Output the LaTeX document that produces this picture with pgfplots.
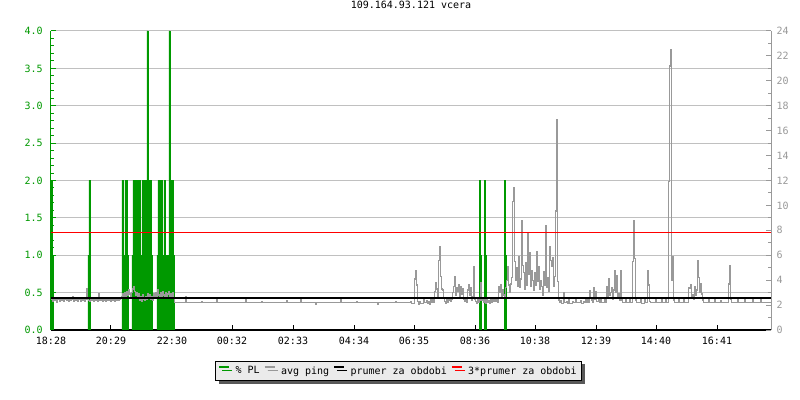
\documentclass[border=0pt]{standalone}
\usepackage{fontspec}
\setmainfont{DejaVu Sans Mono}
\usepackage{pgfplots}
\pgfplotsset{compat=1.18}
\usetikzlibrary{shadows}

\definecolor{plgreen}{HTML}{009900}
\definecolor{pinggray}{HTML}{999999}
\definecolor{gridgray}{HTML}{C0C0C0}
\definecolor{legendfill}{HTML}{EBEBEB}

\begin{document}
\fontsize{7.5}{9}\selectfont
\begin{tikzpicture}
\fill[white] (-38.25pt,-52.5pt) rectangle (561.75pt,247.5pt);

% % PL, left axis (1 px = 2 min)
\begin{axis}[
  scale only axis, width=540pt, height=224.25pt,
  xmin=0, xmax=1440, ymin=0, ymax=4,
  axis x line*=bottom, axis y line*=left,
  x axis line style={black, line width=1.1pt, -},
  y axis line style={plgreen, line width=0.75pt, -},
  tick align=inside, major tick length=3.75pt, minor tick length=2.25pt,
  xtick={0,120,242,362,484,606,726,848,968,1090,1210,1332},
  xticklabels={18:28,20:29,22:30,00:32,02:33,04:34,06:35,08:36,10:38,12:39,14:40,16:41},
  xtick style={black, line width=0.75pt},
  xticklabel style={anchor=center, inner sep=0pt, yshift=-8.25pt},
  ytick={0,0.5,1,1.5,2,2.5,3,3.5,4}, minor y tick num=4,
  ytick style={plgreen, line width=0.75pt},
  yticklabel style={plgreen, anchor=east, inner sep=0pt, xshift=-6pt,
    /pgf/number format/.cd, fixed, fixed zerofill, precision=1},
  /pgf/number format/assume math mode=true,
  ymajorgrids, grid style={gridgray, line width=0.75pt},
  title={109.164.93.121 vcera},
  title style={anchor=center, inner sep=0pt, yshift=13.5pt},
]
\addplot[const plot, fill=plgreen, draw=plgreen, line width=0.4pt] coordinates {
(0,2) (2,1) (4,0)
(74,1) (76,2) (78,0)
(142,2) (144,1) (146,0) (148,2) (152,1) (154,0)
(162,1) (164,2) (166,1) (168,2) (170,1) (172,2) (174,1) (176,2) (178,1)
(182,2) (192,4) (194,2) (196,1) (198,2) (200,1) (202,0)
(212,1) (214,2) (216,1) (218,2) (222,1) (226,2) (228,0) (230,1) (236,4)
(238,2) (240,0) (242,2) (244,1) (246,0)
(856,2) (858,1) (860,0) (866,2) (868,1) (870,0) (906,2) (908,1) (910,0)
(1440,0)
} \closedcycle;
\end{axis}

% avg ping, right axis (samples sit on pixel centres)
\begin{axis}[
  scale only axis, width=540pt, height=224.25pt,
  xmin=-1, xmax=1439, ymin=0, ymax=24,
  axis x line=none, axis y line*=right,
  y axis line style={pinggray, line width=0.75pt, -},
  tick align=inside, major tick length=3.75pt, minor tick length=2.25pt,
  ytick={0,2,...,24}, minor y tick num=1,
  ytick style={pinggray, line width=0.75pt},
  yticklabel style={pinggray, anchor=west, inner sep=0pt, xshift=4pt},
  /pgf/number format/assume math mode=true,
  legend columns=4,
  legend image code/.code={\draw[#1, line width=1.5pt] (0pt,2.6pt) -- (7.5pt,2.6pt);},
  legend style={at={(0.483,-0.137)}, anchor=center, draw=black,
    line width=0.75pt, fill=legendfill, inner xsep=2pt, inner ysep=2pt,
    drop shadow={shadow xshift=2.25pt, shadow yshift=-2.25pt, fill=black!65, opacity=1},
    /tikz/every odd column/.append style={column sep=2pt},
    /tikz/every even column/.append style={column sep=1pt}},
]
\addlegendimage{plgreen}\addlegendentry{\% PL}
\addlegendimage{pinggray}\addlegendentry{avg ping}
\addlegendimage{black}\addlegendentry{prumer za obdobi}
\addlegendimage{red}\addlegendentry{3*prumer za obdobi}

\addplot[const plot, pinggray, line width=1pt, forget plot] coordinates {
(0,2.45) (2,2.3) (4,2.5) (6,2.35) (8,2.4) (10,2.25) (12,2.45) (14,2.55) (16,2.3) (18,2.4)
(20,2.35) (22,2.5) (24,2.3) (26,2.45) (28,2.6) (30,2.35) (32,2.4) (34,2.3) (36,2.5) (38,2.35)
(40,2.45) (42,2.7) (44,2.3) (46,2.4) (48,2.35) (50,2.5) (52,2.3) (54,2.45) (56,2.55) (58,2.3)
(60,2.4) (62,2.35) (64,2.5) (66,2.3) (68,2.45) (70,3.3) (72,2.5) (74,2.35) (76,2.3) (78,2.45)
(80,2.4) (82,2.5) (84,2.3) (86,2.45) (88,2.35) (90,2.55) (92,2.3) (94,2.9) (96,2.4) (98,2.35)
(100,2.5) (102,2.3) (104,2.45) (106,2.4) (108,2.3) (110,2.55) (112,2.35) (114,2.4) (116,2.5) (118,2.3)
(120,2.45) (122,2.35) (124,2.4) (126,2.3) (128,2.5) (130,2.4) (132,2.55) (134,2.35) (136,2.45) (138,2.6)
(140,2.7) (142,2.9) (144,2.6) (146,3.0) (148,2.7) (150,3.1) (152,2.8) (154,3.2) (156,2.9) (158,2.6)
(160,3.0) (162,3.3) (164,3.5) (166,3.1) (168,2.8) (170,3.0) (172,2.6) (174,2.9) (176,2.4) (178,2.7)
(180,2.3) (182,2.8) (184,2.5) (186,2.35) (188,2.7) (190,2.5) (192,2.9) (194,2.6) (196,2.8) (198,2.5)
(200,2.7) (202,2.4) (204,2.9) (206,2.6) (208,3.0) (210,2.7) (212,3.2) (214,2.8) (216,2.6) (218,3.0)
(220,2.7) (222,3.1) (224,2.8) (226,2.6) (228,3.0) (230,2.7) (232,2.9) (234,3.1) (236,2.6) (238,2.9)
(240,2.7) (242,3.0) (244,2.6)
(246,2.2) (268,2.7) (270,2.2) (300,2.3) (302,2.2) (330,2.5) (332,2.2)
(388,2.4) (390,2.2) (420,2.3) (422,2.2) (470,2.35) (472,2.2) (498,2.45)
(500,2.2) (528,2.1) (530,2.2) (578,2.4) (580,2.2) (610,2.3) (612,2.2)
(652,2.1) (654,2.2) (688,2.3) (690,2.2) (718,2.3) (720,2.15)
(726,4.1) (728,4.8) (730,3.6) (732,2.3) (734,2.1) (736,2.3) (738,2.15) (744,2.4) (746,2.2)
(750,2.35) (752,2.15) (754,2.3) (756,2.1) (758,2.5) (760,2.2) (762,2.4) (764,2.2)
(766,3.1) (768,3.8) (770,3.3) (772,2.6) (774,5.6) (776,6.7) (778,4.3)
(780,3.3) (782,3.2) (784,2.6) (786,2.3) (788,2.15) (790,2.5) (792,2.2) (794,2.4) (796,2.6) (798,2.3) (800,2.5)
(802,3.0) (804,3.5) (806,4.3) (808,2.8) (810,3.4) (812,3.1) (814,3.6)
(816,2.7) (818,3.5) (820,2.9) (822,3.3) (824,2.5) (826,2.3) (828,2.6) (830,2.2)
(832,3.2) (834,3.6) (836,2.8) (838,3.4) (840,2.4) (842,2.7) (844,5.1) (846,2.5)
(848,2.3) (850,2.15) (852,2.6) (854,2.2) (856,2.4) (858,3.8) (860,2.4) (862,2.6) (864,2.2) (866,2.4) (868,2.15) (870,2.5)
(872,2.2) (874,2.35) (876,2.15) (878,2.4) (880,2.2) (882,2.5) (884,2.3) (886,2.6) (888,2.3) (890,2.5) (892,2.2)
(894,3.5) (896,3.0) (898,3.6) (900,2.7) (902,3.2) (904,2.8) (906,2.6)
(908,3.4) (910,4.0) (912,5.1) (914,3.6) (916,3.0) (918,3.7) (920,4.2)
(922,10.3) (924,11.45) (926,5.5) (928,4.0) (930,5.0) (932,3.5) (934,5.9)
(936,3.4) (938,4.1) (940,8.8) (942,5.2) (944,4.6) (946,3.3) (948,5.4)
(950,3.6) (952,7.7) (954,4.5) (956,6.2) (958,3.5) (960,4.8) (962,4.0)
(964,3.2) (966,4.6) (968,3.6) (970,6.3) (972,3.9) (974,5.1) (976,3.3)
(978,4.0) (980,3.5) (982,2.8) (984,4.7) (986,3.6) (988,8.35) (990,3.4)
(992,4.2) (994,3.1) (996,6.7) (998,5.6) (1000,5.1) (1002,5.8) (1004,3.5)
(1006,4.3) (1008,9.55) (1010,16.9) (1012,3.9) (1014,2.4) (1016,2.2) (1018,2.35) (1020,2.15)
(1024,3.0) (1026,2.2) (1030,2.3) (1032,2.15) (1034,2.4) (1036,2.15) (1042,2.3) (1044,2.2) (1048,2.5) (1050,2.2)
(1058,2.35) (1060,2.15) (1064,2.3) (1066,2.2) (1068,2.5) (1070,2.2) (1072,2.4) (1074,2.2)
(1076,3.15) (1078,2.6) (1080,2.4) (1082,2.2) (1084,3.4) (1086,2.5)
(1088,3.1) (1090,2.3) (1094,2.4) (1096,2.2) (1098,2.5) (1100,2.2) (1106,2.4) (1108,2.2)
(1110,3.5) (1112,2.7) (1114,4.15) (1116,2.8) (1118,3.0) (1120,3.4)
(1122,2.5) (1124,3.2) (1126,4.76) (1128,3.0) (1130,4.4) (1132,2.6)
(1134,2.9) (1136,2.4) (1138,4.8) (1140,2.4) (1142,2.2) (1148,2.5)
(1150,2.2) (1156,2.4) (1158,2.2)
(1162,5.5) (1164,8.8) (1166,5.75) (1168,2.4) (1170,2.2) (1178,2.4)
(1180,2.15) (1186,2.5) (1188,2.2) (1192,4.76) (1194,3.6) (1196,2.3)
(1198,2.2) (1208,2.4) (1210,2.2) (1220,2.6) (1222,2.2) (1228,2.4) (1230,2.2)
(1234,11.9) (1236,21.2) (1238,22.5) (1240,4.0) (1242,5.9) (1244,2.4)
(1246,2.2) (1254,2.4) (1256,2.2) (1264,2.5) (1266,2.2)
(1274,3.4) (1276,3.35) (1278,3.6) (1280,2.6) (1282,2.8) (1284,2.5)
(1286,3.5) (1288,2.8) (1290,3.2) (1292,5.6) (1294,4.2) (1296,3.0)
(1298,3.7) (1300,2.9) (1302,2.4) (1304,2.2) (1314,2.4) (1316,2.2)
(1326,2.5) (1328,2.2) (1338,2.35) (1340,2.2)
(1354,3.7) (1356,5.2) (1358,2.5) (1360,2.2) (1372,2.4) (1374,2.2)
(1386,2.5) (1388,2.2) (1402,2.4) (1404,2.2) (1418,2.45) (1420,2.2)
(1438,2.2)
};
\addplot[black, line width=1.5pt, forget plot] coordinates {(-1,2.6) (1439,2.6)};
\addplot[red, line width=0.75pt, forget plot] coordinates {(-1,7.8) (1439,7.8)};
\end{axis}

\pgfresetboundingbox
\path[use as bounding box] (-38.25pt,-52.5pt) rectangle (561.75pt,247.5pt);
\end{tikzpicture}
\end{document}
